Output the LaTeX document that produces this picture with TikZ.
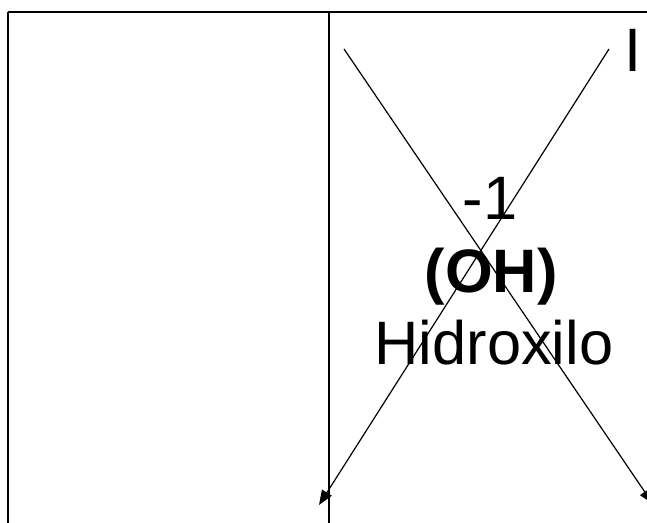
\documentclass[tikz,border=0pt]{standalone}
\usepackage{fontspec}
\setmainfont{Liberation Sans}
\usepackage{tikz}
\usetikzlibrary{arrows.meta, positioning}

\tikzset{
  marco/.style={line width=1.3pt},
  cruce/.style={line width=0.9pt, -{Triangle[length=11pt,width=8.5pt]}},
  letra/.style={inner sep=0pt, anchor=base, font=\fontsize{46}{54}\selectfont}
}

\begin{document}
\begin{tikzpicture}[x=0.75pt,y=0.75pt,yscale=-1,xscale=1]
\useasboundingbox (0,0) rectangle (647,523);
%Shape: Rectangle
\draw [marco] (8,12) -- (660,12) ;
\draw [marco] (8,12) -- (8,540) ;
%Straight Lines
\draw [marco] (329,12) -- (329,540) ;
%Text Nodes
\node [letra, anchor=base west] (ion) at (624,72) {I};
\node [letra] (carga) at (490,220) {-1};
\node [letra, font=\fontsize{46}{54}\selectfont\bfseries] (formula) at (491,293) {(OH)};
\node [letra] (nombre) at (494,365) {Hidroxilo};
%Coordinates
\coordinate (a1) at (344,49) ;
\coordinate (a2) at (653,504) ;
\coordinate (b1) at (609,49) ;
\coordinate (b2) at (319,505) ;
%Straight Lines
\draw [cruce] (a1) -- (a2) ;
%Straight Lines
\draw [cruce] (b1) -- (b2) ;
\end{tikzpicture}
\end{document}
